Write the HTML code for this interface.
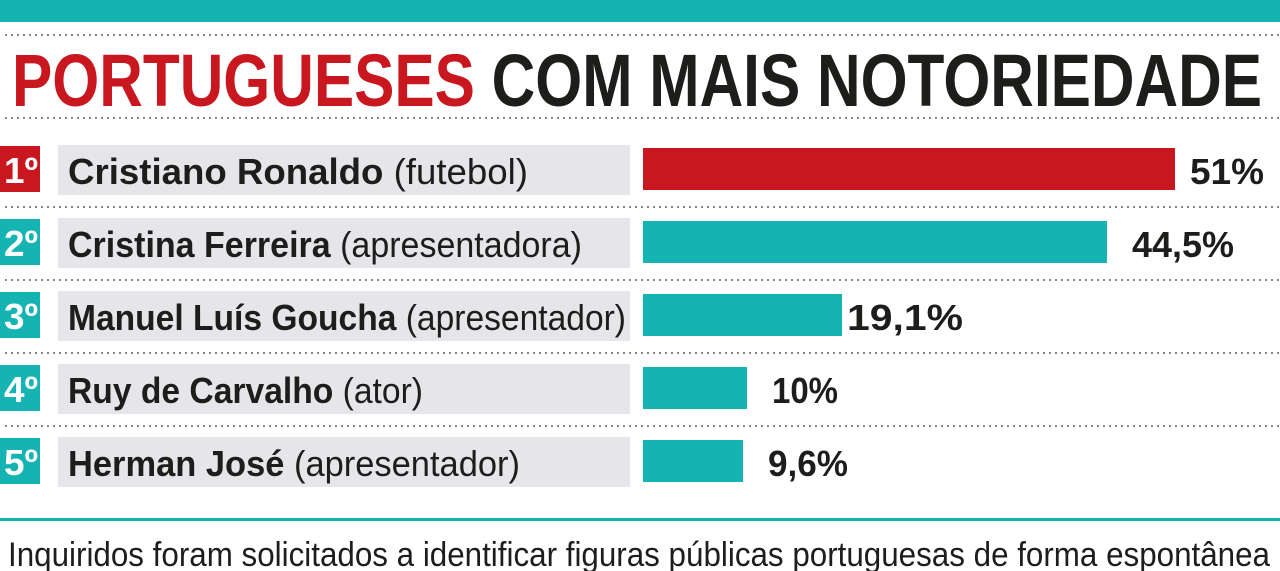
<!DOCTYPE html>
<html><head><meta charset="utf-8"><style>
html,body{margin:0;padding:0;background:#fff;width:1280px;height:571px;overflow:hidden}
text{font-family:"Liberation Sans Narrow","Liberation Sans",sans-serif}
</style></head><body>
<svg width="1280" height="571" viewBox="0 0 1280 571" xmlns="http://www.w3.org/2000/svg">
<rect x="0" y="0" width="1280" height="22" fill="#15b3b1"/>
<g stroke="#888" stroke-width="2" stroke-dasharray="2,4">
<line x1="5" y1="35" x2="1280" y2="35"/>
<line x1="5" y1="118" x2="1280" y2="118"/>
<line x1="5" y1="207" x2="1280" y2="207"/>
<line x1="5" y1="280" x2="1280" y2="280"/>
<line x1="5" y1="353" x2="1280" y2="353"/>
<line x1="5" y1="426" x2="1280" y2="426"/>
</g>
<text x="12" y="106" font-size="74" font-weight="bold" textLength="1250" lengthAdjust="spacingAndGlyphs"><tspan fill="#c8171e">PORTUGUESES</tspan><tspan fill="#1d1d1b"> COM MAIS NOTORIEDADE</tspan></text>

<g font-size="36" fill="#1d1d1b">
<rect x="58" y="145" width="572" height="50" fill="#e6e6ea"/>
<rect x="0" y="146" width="40" height="46" fill="#c8171e"/>
<text x="4" y="183" fill="#fff" font-weight="bold" font-size="36" textLength="34" lengthAdjust="spacingAndGlyphs">1º</text>
<text x="68" y="184" textLength="460" lengthAdjust="spacingAndGlyphs"><tspan font-weight="bold">Cristiano Ronaldo</tspan> (futebol)</text>
<rect x="643" y="148" width="532" height="42" fill="#c8171e"/>
<text x="1190" y="184" font-weight="bold" textLength="74" lengthAdjust="spacingAndGlyphs">51%</text>

<rect x="58" y="218" width="572" height="50" fill="#e6e6ea"/>
<rect x="0" y="219" width="40" height="46" fill="#15b3b1"/>
<text x="4" y="256" fill="#fff" font-weight="bold" font-size="36" textLength="34" lengthAdjust="spacingAndGlyphs">2º</text>
<text x="68" y="257" textLength="514" lengthAdjust="spacingAndGlyphs"><tspan font-weight="bold">Cristina Ferreira</tspan> (apresentadora)</text>
<rect x="643" y="221" width="464" height="42" fill="#15b3b1"/>
<text x="1132" y="257" font-weight="bold" textLength="102" lengthAdjust="spacingAndGlyphs">44,5%</text>

<rect x="58" y="291" width="572" height="50" fill="#e6e6ea"/>
<rect x="0" y="292" width="40" height="46" fill="#15b3b1"/>
<text x="4" y="329" fill="#fff" font-weight="bold" font-size="36" textLength="34" lengthAdjust="spacingAndGlyphs">3º</text>
<text x="68" y="330" textLength="558" lengthAdjust="spacingAndGlyphs"><tspan font-weight="bold">Manuel Luís Goucha</tspan> (apresentador)</text>
<rect x="643" y="294" width="199" height="42" fill="#15b3b1"/>
<text x="847" y="330" font-weight="bold" textLength="116" lengthAdjust="spacingAndGlyphs">19,1%</text>

<rect x="58" y="364" width="572" height="50" fill="#e6e6ea"/>
<rect x="0" y="365" width="40" height="46" fill="#15b3b1"/>
<text x="4" y="402" fill="#fff" font-weight="bold" font-size="36" textLength="34" lengthAdjust="spacingAndGlyphs">4º</text>
<text x="68" y="403" textLength="355" lengthAdjust="spacingAndGlyphs"><tspan font-weight="bold">Ruy de Carvalho</tspan> (ator)</text>
<rect x="643" y="367" width="104" height="42" fill="#15b3b1"/>
<text x="772" y="403" font-weight="bold" textLength="66" lengthAdjust="spacingAndGlyphs">10%</text>

<rect x="58" y="437" width="572" height="50" fill="#e6e6ea"/>
<rect x="0" y="438" width="40" height="46" fill="#15b3b1"/>
<text x="4" y="475" fill="#fff" font-weight="bold" font-size="36" textLength="34" lengthAdjust="spacingAndGlyphs">5º</text>
<text x="68" y="476" textLength="452" lengthAdjust="spacingAndGlyphs"><tspan font-weight="bold">Herman José</tspan> (apresentador)</text>
<rect x="643" y="440" width="100" height="42" fill="#15b3b1"/>
<text x="768" y="476" font-weight="bold" textLength="80" lengthAdjust="spacingAndGlyphs">9,6%</text>
</g>

<rect x="0" y="518" width="1280" height="3" fill="#15b3b1"/>
<text x="8" y="566" font-size="34" fill="#1d1d1b" textLength="1262" lengthAdjust="spacingAndGlyphs">Inquiridos foram solicitados a identificar figuras públicas portuguesas de forma espontânea</text>
</svg>
</body></html>
